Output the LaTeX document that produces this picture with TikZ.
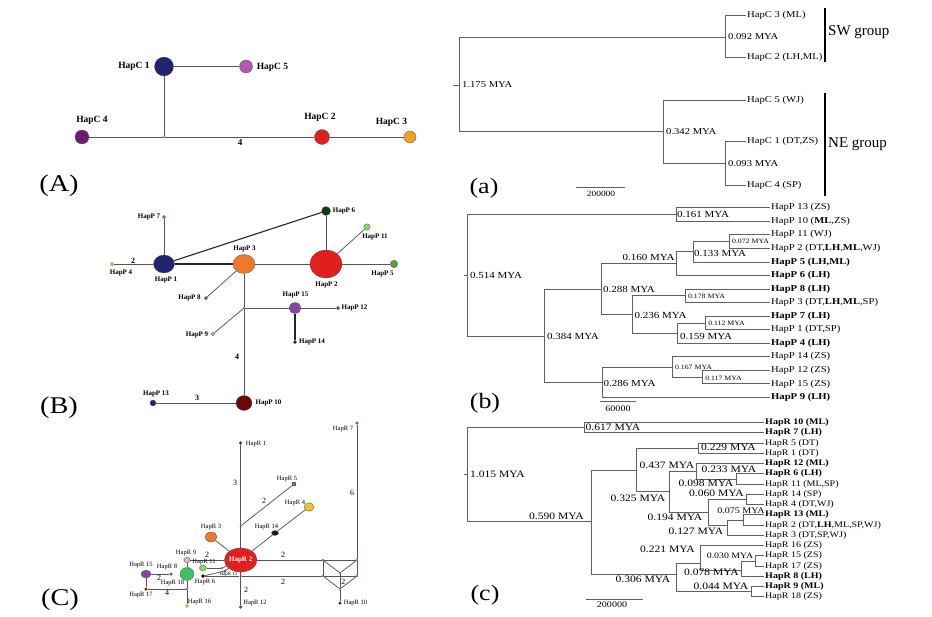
\documentclass[tikz,border=0pt]{standalone}
\usepackage{fontspec}
\setmainfont{Liberation Serif}
\newfontfamily\tf{Liberation Serif}[FakeStretch=1.18]
\usetikzlibrary{shapes.geometric}
\definecolor{navy}{HTML}{23236E}
\definecolor{orchid}{HTML}{B455B4}
\definecolor{purp}{HTML}{6A1B72}
\definecolor{hred}{HTML}{E0201E}
\definecolor{horange}{HTML}{F5A023}
\definecolor{porange}{HTML}{F07828}
\definecolor{dgreen}{HTML}{123A12}
\definecolor{lgreen}{HTML}{88D868}
\definecolor{mgreen}{HTML}{5AA032}
\definecolor{hblue}{HTML}{4A8AD0}
\definecolor{hyellow}{HTML}{E8C828}
\definecolor{magenta2}{HTML}{E02878}
\definecolor{violet2}{HTML}{8A44A8}
\definecolor{olive2}{HTML}{6A5418}
\definecolor{pink2}{HTML}{F2A8C8}
\definecolor{maroon2}{HTML}{6A0808}
\definecolor{green3}{HTML}{3CC060}
\definecolor{jred}{HTML}{D02030}
\definecolor{linegray}{HTML}{555555}
\tikzset{
  edge/.style={draw=linegray, line width=0.75pt},
  edgeB/.style={draw=black!85, line width=1.1pt},
  tline/.style={draw=black!62, line width=0.8pt},
  hap/.style={circle, draw=black!65, line width=0.3pt, inner sep=0pt},
  jn/.style={circle, fill=jred, inner sep=0pt, minimum size=2.4pt},
  labA/.style={font=\fontsize{9.5}{10}\selectfont\bfseries, inner sep=0pt},
  labB/.style={font=\fontsize{7}{8}\selectfont\bfseries, inner sep=0pt},
  labC/.style={font=\fontsize{6.5}{7}\selectfont, inner sep=0pt},
  numA/.style={font=\fontsize{9}{10}\selectfont\bfseries, inner sep=0pt},
  numC/.style={font=\fontsize{8}{9}\selectfont, inner sep=0pt},
  leafa/.style={anchor=west, inner sep=1pt, font=\tf\fontsize{9}{10}\selectfont},
  leafc/.style={anchor=west, inner sep=1pt, font=\tf\fontsize{8.5}{9}\selectfont},
  mya/.style={inner sep=0pt, font=\tf\fontsize{9.3}{10}\selectfont},
  myac/.style={inner sep=0pt, font=\tf\fontsize{9.8}{10}\selectfont},
  myas/.style={inner sep=0pt, font=\tf\fontsize{6.6}{7}\selectfont},
  panel/.style={inner sep=0pt, font=\tf\fontsize{24}{26}\selectfont},
  panelb/.style={inner sep=0pt, font=\tf\fontsize{22}{24}\selectfont},
  grp/.style={anchor=west, inner sep=0pt, font=\fontsize{15}{16}\selectfont},
}
\begin{document}
\begin{tikzpicture}[x=1pt,y=-1pt]
\fill[white] (0,0) rectangle (932,616);
\useasboundingbox (0,0) rectangle (932,616);

% ================= Panel A =================
\node[hap, minimum size=19pt, fill=navy] (C1) at (164,66.5) {};
\node[hap, minimum size=13pt, fill=orchid] (C5) at (246,66.5) {};
\node[jn, minimum size=2pt] (JA) at (164,137) {};
\node[hap, minimum size=14pt, fill=purp] (C4) at (82,137) {};
\node[hap, minimum size=15pt, fill=hred] (C2) at (322,137) {};
\node[hap, minimum size=12pt, fill=horange] (C3) at (410,137) {};
\draw[edge] (C1) -- (C5);
\draw[edge] (C1) -- (JA);
\draw[edge] (C4) -- (JA);
\draw[edge] (JA) -- (C2);
\draw[edge] (C2) -- (C3);
\node[labA] (lC1) at (134,66.5) {HapC 1};
\node[labA] (lC5) at (272.5,67) {HapC 5};
\node[labA] (lC4) at (92,120) {HapC 4};
\node[labA] (lC2) at (320,117) {HapC 2};
\node[labA] (lC3) at (391.5,122) {HapC 3};
\node[numA] (nA4) at (240,142.5) {4};
\node[panel] (pA) at (59,186) {(A)};

% ================= Panel B =================
\node[hap, ellipse, minimum width=21pt, minimum height=18pt, fill=navy] (P1) at (164,264) {};
\node[hap, ellipse, minimum width=22pt, minimum height=19pt, fill=porange] (P3) at (244,264) {};
\node[hap, ellipse, minimum width=32pt, minimum height=28pt, fill=hred] (P2) at (326,264) {};
\node[hap, minimum size=9pt, fill=dgreen] (P6) at (326,211) {};
\node[hap, minimum size=6.5pt, fill=lgreen] (P11) at (367,227) {};
\node[hap, minimum size=7.5pt, fill=mgreen] (P5) at (394,264) {};
\node[hap, minimum size=3.5pt, fill=hblue] (P7) at (164,217) {};
\node[hap, minimum size=3.5pt, fill=hyellow] (P4) at (112,264) {};
\node[hap, minimum size=3.5pt, fill=magenta2] (P8) at (206,298) {};
\node[jn] (JB) at (244,308) {};
\node[hap, ellipse, minimum width=12pt, minimum height=11pt, fill=violet2] (P15) at (295,308) {};
\node[hap, minimum size=3.5pt, fill=olive2] (P12) at (338,308) {};
\node[hap, minimum size=3.5pt, fill=black!85] (P14) at (295,342) {};
\node[hap, minimum size=3.8pt, fill=pink2] (P9) at (213,334) {};
\node[hap, ellipse, minimum width=16pt, minimum height=15pt, fill=maroon2] (P10) at (244,403) {};
\node[hap, minimum size=6pt, fill=navy] (P13) at (153,403) {};
\draw[edge] (P4) -- (P1);
\draw[edge] (P7) -- (P1);
\draw[edgeB] (P1) -- (P3);
\draw[edgeB] (P1) -- (P6);
\draw[edge] (P3) -- (P2);
\draw[edge] (P2) -- (P6);
\draw[edge] (P2) -- (P11);
\draw[edge] (P2) -- (P5);
\draw[edge] (P3) -- (P8);
\draw[edge] (P3) -- (JB);
\draw[edge] (JB) -- (P15);
\draw[edge] (P15) -- (P12);
\draw[edgeB] (P15) -- (P14);
\draw[edge] (JB) -- (P9);
\draw[edge] (JB) -- (P10);
\draw[edge] (P13) -- (P10);
\node[labB] (lP7) at (149,217) {HapP 7};
\node[labB] (lP6) at (344,211) {HapP 6};
\node[labB] (lP11) at (375,237) {HapP 11};
\node[labB] (lP5) at (382.5,273.5) {HapP 5};
\node[labB] (lP2) at (326.5,285) {HapP 2};
\node[labB] (lP3) at (244.5,249) {HapP 3};
\node[labB] (lP1) at (166,280) {HapP 1};
\node[labB] (lP4) at (121,273) {HapP 4};
\node[labB] (lP8) at (189.5,298) {HapP 8};
\node[labB] (lP15) at (295.5,295) {HapP 15};
\node[labB] (lP12) at (354.5,308) {HapP 12};
\node[labB] (lP14) at (312,342) {HapP 14};
\node[labB] (lP9) at (197,334.5) {HapP 9};
\node[labB] (lP10) at (268.5,403) {HapP 10};
\node[labB] (lP13) at (156,394) {HapP 13};
\node[numA, font=\fontsize{8}{9}\selectfont\bfseries] (nB2) at (133,261) {2};
\node[numA, font=\fontsize{8}{9}\selectfont\bfseries] (nB4) at (237,357) {4};
\node[numA, font=\fontsize{8}{9}\selectfont\bfseries] (nB3) at (197,398) {3};
\node[panel] (pB) at (59,408) {(B)};

% ================= Panel C =================
\node[hap, ellipse, minimum width=32pt, minimum height=24pt, fill=hred, text=white, font=\fontsize{7}{8}\selectfont\bfseries] (R2) at (240.7,560) {HapR 2};
\node[hap, minimum size=3pt, fill=navy] (R1) at (240.7,443) {};
\node[jn] (JR1) at (240.7,526) {};
\node[hap, rectangle, minimum size=3pt, fill=mgreen] (R5) at (294,484) {};
\node[hap, ellipse, minimum width=10pt, minimum height=8.5pt, fill=hyellow] (R4) at (309,507) {};
\node[hap, ellipse, minimum width=7pt, minimum height=5pt, fill=black!90] (R14) at (275,533) {};
\node[hap, ellipse, minimum width=12pt, minimum height=10pt, fill=porange] (R3) at (211,537) {};
\node[jn] (JRr) at (323,560) {};
\node[jn] (JRt) at (357,560) {};
\node[jn] (JRm) at (340,573) {};
\node[jn] (JRl) at (323,576) {};
\node[jn] (JRk) at (357,576) {};
\node[jn] (JRb) at (340,589) {};
\node[hap, minimum size=3pt, fill=hblue] (R7) at (357,423) {};
\node[hap, minimum size=3pt, fill=maroon2] (R10) at (340,603) {};
\node[jn] (JR2) at (240.7,576) {};
\node[hap, minimum size=3pt, fill=olive2] (R12) at (240.7,607) {};
\node[hap, ellipse, minimum width=7pt, minimum height=6pt, fill=lgreen] (R11) at (203,568) {};
\node[jn] (J11) at (222,568) {};
\node[hap, minimum size=2.5pt, fill=navy] (R13) at (225,571) {};
\node[hap, minimum size=3.5pt, fill=black] (R6) at (203,576) {};
\node[hap, ellipse, minimum width=6.5pt, minimum height=5.5pt, fill=pink2] (R9) at (187,560) {};
\node[hap, ellipse, minimum width=14pt, minimum height=13pt, fill=green3] (R18) at (187,574) {};
\node[jn] (J18) at (187,589) {};
\node[hap, minimum size=3pt, fill=hyellow] (R16) at (187,606) {};
\node[hap, minimum size=3pt, fill=maroon2] (R17) at (146,589) {};
\node[hap, ellipse, minimum width=10pt, minimum height=8pt, fill=violet2] (R15) at (146,574) {};
\node[hap, minimum size=3pt, fill=magenta2] (R8) at (171,574) {};
\draw[edge] (R1) -- (JR1);
\draw[edge] (JR1) -- (R5);
\draw[edge] (JR1) -- (R2);
\draw[edge] (R2) -- (R14);
\draw[edge] (R14) -- (R4);
\draw[edge] (R3) -- (R2);
\draw[edge] (R2) -- (JRr);
\draw[edge] (JRr) -- (JRt);
\draw[edge] (JRr) -- (JRm);
\draw[edge] (JRt) -- (JRm);
\draw[edge] (JRm) -- (JRb);
\draw[edge] (JRb) -- (R10);
\draw[edge] (JRl) -- (JRb);
\draw[edge] (JRk) -- (JRb);
\draw[edge] (JRr) -- (JRl);
\draw[edge] (JRt) -- (JRk);
\draw[edge] (JRt) -- (R7);
\draw[edge] (JR2) -- (JRl);
\draw[edge] (JRl) -- (JRk);
\draw[edge] (R2) -- (JR2);
\draw[edge] (JR2) -- (R12);
\draw[edge] (R6) -- (JR2);
\draw[edge] (R6) -- (R13);
\draw[edge] (R13) -- (R2);
\draw[edge] (R11) -- (J11);
\draw[edge] (J11) -- (R2);
\draw[edge] (R9) -- (R2);
\draw[edge] (R9) -- (R18);
\draw[edge] (R18) -- (J18);
\draw[edge] (J18) -- (R16);
\draw[edge] (J18) -- (R17);
\draw[edge] (R17) -- (R15);
\draw[edge] (R15) -- (R8);
\node[labC] (lR1) at (256,444) {HapR 1};
\node[labC] (lR5) at (287,479) {HapR 5};
\node[labC] (lR4) at (295,503) {HapR 4};
\node[labC] (lR14) at (266.5,527.5) {HapR 14};
\node[labC] (lR3) at (211,527) {HapR 3};
\node[labC] (lR7) at (343,429.5) {HapR 7};
\node[labC] (lR10) at (355.5,603) {HapR 10};
\node[labC] (lR12) at (255,603) {HapR 12};
\node[labC] (lR9) at (186,553) {HapR 9};
\node[labC] (lR11) at (204,562) {HapR 11};
\node[labC, font=\fontsize{4.8}{5}\selectfont] (lR13) at (228.5,574.5) {HapR 13};
\node[labC] (lR6) at (205,582) {HapR 6};
\node[labC] (lR15) at (141,565) {HapR 15};
\node[labC] (lR8) at (167,567) {HapR 8};
\node[labC] (lR18) at (172.5,583) {HapR 18};
\node[labC] (lR17) at (141,595) {HapR 17};
\node[labC] (lR16) at (199.5,602) {HapR 16};
\node[numC] (nC3) at (235,483) {3};
\node[numC] (nC2a) at (264,501) {2};
\node[numC] (nC2b) at (283,555) {2};
\node[numC] (nC2c) at (283,582) {2};
\node[numC] (nC6) at (352,493) {6};
\node[numC] (nC2d) at (343.3,581.7) {2};
\node[numC] (nC2e) at (246,590) {2};
\node[numC] (nC2f) at (207,555) {2};
\node[numC] (nC2g) at (159,578) {2};
\node[numC] (nC4) at (167,593) {4};
\node[panel] (pC) at (60,600) {(C)};

% ================= Tree (a) =================
\coordinate (ta0) at (453,85);
\coordinate (ra) at (459,85);
\coordinate (aSW) at (725,37);
\coordinate (aNE) at (663.3,131.7);
\coordinate (aC14) at (725,163.3);
\node[leafa] (tC3) at (746,15) {HapC 3 (ML)};
\node[leafa] (tC2) at (746,57.3) {HapC 2 (LH,ML)};
\node[leafa] (tC5) at (746,100) {HapC 5 (WJ)};
\node[leafa] (tC1) at (746,141.7) {HapC 1 (DT,ZS)};
\node[leafa] (tC4) at (746,185) {HapC 4 (SP)};
\draw[tline] (ta0) -- (ra);
\draw[tline] (ra) |- (aSW);
\draw[tline] (ra) |- (aNE);
\draw[tline] (aSW) |- (tC3.west);
\draw[tline] (aSW) |- (tC2.west);
\draw[tline] (aNE) |- (tC5.west);
\draw[tline] (aNE) |- (aC14);
\draw[tline] (aC14) |- (tC1.west);
\draw[tline] (aC14) |- (tC4.west);
\node[mya, anchor=west, font=\tf\fontsize{9}{10}\selectfont] (ma1) at (462,85) {1.175 MYA};
\node[mya, anchor=west, font=\tf\fontsize{9}{10}\selectfont] (ma2) at (728,37) {0.092 MYA};
\node[mya, anchor=west, font=\tf\fontsize{9}{10}\selectfont] (ma3) at (666,132) {0.342 MYA};
\node[mya, anchor=west, font=\tf\fontsize{9}{10}\selectfont] (ma4) at (728,164) {0.093 MYA};
\coordinate (sbA1) at (825,8); \coordinate (sbA2) at (825,62);
\coordinate (neA1) at (825,93); \coordinate (neA2) at (825,196);
\draw[line width=2pt] (sbA1) -- (sbA2);
\draw[line width=2pt] (neA1) -- (neA2);
\node[grp] (gSW) at (828,32) {SW group};
\node[grp] (gNE) at (828,144) {NE group};
\coordinate (scA1) at (576,187.7); \coordinate (scA2) at (625,187.7);
\draw[tline] (scA1) -- (scA2);
\node[inner sep=0pt, font=\tf\fontsize{8}{9}\selectfont] (scAt) at (601,193.5) {200000};
\node[panelb] (pa) at (484,188) {(a)};

% ================= Tree (b) =================
\coordinate (tb0) at (464,275);
\coordinate (rb) at (467.3,275);
\coordinate (b161) at (676,214.3);
\coordinate (b384) at (544.3,336);
\coordinate (b288) at (601.7,289.3);
\coordinate (b286) at (602.3,382.7);
\coordinate (b160) at (676.7,263.3);
\coordinate (b236) at (632,314.7);
\coordinate (b133) at (693.3,251.7);
\coordinate (b072) at (729.3,241.3);
\coordinate (b178) at (685,295.7);
\coordinate (b159) at (677.3,333.3);
\coordinate (b112) at (705.7,323);
\coordinate (b167) at (672.3,367.7);
\coordinate (b117) at (702.3,377.7);
\node[leafa] (tP13) at (770,207.7) {HapP 13 (ZS)};
\node[leafa] (tP10) at (770,221.25) {HapP 10 (\textbf{ML},ZS)};
\node[leafa] (tP11) at (770,234.8) {HapP 11 (WJ)};
\node[leafa] (tP2) at (770,248.35) {HapP 2 (DT,\textbf{LH},\textbf{ML},WJ)};
\node[leafa] (tP5) at (770,261.9) {\textbf{HapP 5 (LH,ML)}};
\node[leafa] (tP6) at (770,275.45) {\textbf{HapP 6 (LH)}};
\node[leafa] (tP8) at (770,289) {\textbf{HapP 8 (LH)}};
\node[leafa] (tP3) at (770,302.55) {HapP 3 (DT,\textbf{LH},\textbf{ML},SP)};
\node[leafa] (tP7) at (770,316.1) {\textbf{HapP 7 (LH)}};
\node[leafa] (tP1) at (770,329.65) {HapP 1 (DT,SP)};
\node[leafa] (tP4) at (770,343.2) {\textbf{HapP 4 (LH)}};
\node[leafa] (tP14) at (770,356.75) {HapP 14 (ZS)};
\node[leafa] (tP12) at (770,370.3) {HapP 12 (ZS)};
\node[leafa] (tP15) at (770,383.85) {HapP 15 (ZS)};
\node[leafa] (tP9) at (770,397.4) {\textbf{HapP 9 (LH)}};
\draw[tline] (tb0) -- (rb);
\draw[tline] (rb) |- (b161);
\draw[tline] (rb) |- (b384);
\draw[tline] (b161) |- (tP13.west);
\draw[tline] (b161) |- (tP10.west);
\draw[tline] (b384) |- (b288);
\draw[tline] (b384) |- (b286);
\draw[tline] (b288) |- (b160);
\draw[tline] (b288) |- (b236);
\draw[tline] (b160) |- (b133);
\draw[tline] (b160) |- (tP6.west);
\draw[tline] (b133) |- (b072);
\draw[tline] (b133) |- (tP5.west);
\draw[tline] (b072) |- (tP11.west);
\draw[tline] (b072) |- (tP2.west);
\draw[tline] (b236) |- (b178);
\draw[tline] (b236) |- (b159);
\draw[tline] (b178) |- (tP8.west);
\draw[tline] (b178) |- (tP3.west);
\draw[tline] (b159) |- (b112);
\draw[tline] (b159) |- (tP4.west);
\draw[tline] (b112) |- (tP7.west);
\draw[tline] (b112) |- (tP1.west);
\draw[tline] (b286) |- (b167);
\draw[tline] (b286) |- (tP9.west);
\draw[tline] (b167) |- (tP14.west);
\draw[tline] (b167) |- (b117);
\draw[tline] (b117) |- (tP12.west);
\draw[tline] (b117) |- (tP15.west);
\node[mya, anchor=west] (mb1) at (470,275) {0.514 MYA};
\node[mya, anchor=west] (mb2) at (677,214.5) {0.161 MYA};
\node[mya] (mb3) at (648.5,257.5) {0.160 MYA};
\node[mya] (mb4) at (720,253.5) {0.133 MYA};
\node[myas] (mb5) at (750.5,241) {0.072 MYA};
\node[mya] (mb6) at (629,289.5) {0.288 MYA};
\node[myas] (mb7) at (706.5,296) {0.178 MYA};
\node[mya] (mb8) at (660.5,315) {0.236 MYA};
\node[myas] (mb9) at (726.5,323) {0.112 MYA};
\node[mya] (mb10) at (706,336.5) {0.159 MYA};
\node[mya] (mb11) at (573,336.5) {0.384 MYA};
\node[mya] (mb12) at (629.5,383) {0.286 MYA};
\node[myas] (mb13) at (693.5,367.5) {0.167 MYA};
\node[myas] (mb14) at (723.5,378) {0.117 MYA};
\coordinate (scB1) at (600,401.7); \coordinate (scB2) at (636,401.7);
\draw[tline] (scB1) -- (scB2);
\node[inner sep=0pt, font=\tf\fontsize{8.5}{9}\selectfont] (scBt) at (618,408.5) {60000};
\node[panelb] (pb) at (485,403) {(b)};

% ================= Tree (c) =================
\coordinate (tc0) at (464,474.3);
\coordinate (rc) at (467.3,474.3);
\coordinate (c617) at (584,427.6);
\coordinate (c590) at (591.7,521);
\coordinate (cA) at (636.7,470);
\coordinate (c229) at (698.3,448);
\coordinate (cB) at (669.3,491.7);
\coordinate (cC) at (696.7,471.7);
\coordinate (cE) at (736.7,478.9);
\coordinate (cD) at (708.3,512.3);
\coordinate (cF) at (746.7,499.4);
\coordinate (cG) at (727.7,525);
\coordinate (cH) at (743.3,519.9);
\coordinate (c306) at (676,574.3);
\coordinate (cI) at (700,563.3);
\coordinate (cK) at (741.7,570);
\coordinate (cL) at (755,560.9);
\coordinate (cJ) at (751.7,591.6);
\node[leafc] (tR10) at (764,422.5) {\textbf{HapR 10 (ML)}};
\node[leafc] (tR7) at (764,432.75) {\textbf{HapR 7 (LH)}};
\node[leafc] (tR5) at (764,443) {HapR 5 (DT)};
\node[leafc] (tR1) at (764,453.25) {HapR 1 (DT)};
\node[leafc] (tR12) at (764,463.5) {\textbf{HapR 12 (ML)}};
\node[leafc] (tR6) at (764,473.75) {\textbf{HapR 6 (LH)}};
\node[leafc] (tR11) at (764,484) {HapR 11 (ML,SP)};
\node[leafc] (tR14) at (764,494.25) {HapR 14 (SP)};
\node[leafc] (tR4) at (764,504.5) {HapR 4 (DT,WJ)};
\node[leafc] (tR13) at (764,514.75) {\textbf{HapR 13 (ML)}};
\node[leafc] (tR2) at (764,525) {HapR 2 (DT,\textbf{LH},ML,SP,WJ)};
\node[leafc] (tR3) at (764,535.25) {HapR 3 (DT,SP,WJ)};
\node[leafc] (tR16) at (764,545.5) {HapR 16 (ZS)};
\node[leafc] (tR15) at (764,555.75) {HapR 15 (ZS)};
\node[leafc] (tR17) at (764,566) {HapR 17 (ZS)};
\node[leafc] (tR8) at (764,576.25) {\textbf{HapR 8 (LH)}};
\node[leafc] (tR9) at (764,586.5) {\textbf{HapR 9 (ML)}};
\node[leafc] (tR18) at (764,596.75) {HapR 18 (ZS)};
\draw[tline] (tc0) -- (rc);
\draw[tline] (rc) |- (c617);
\draw[tline] (rc) |- (c590);
\draw[tline] (c617) |- (tR10.west);
\draw[tline] (c617) |- (tR7.west);
\draw[tline] (c590) |- (cA);
\draw[tline] (c590) |- (c306);
\draw[tline] (cA) |- (c229);
\draw[tline] (cA) |- (cB);
\draw[tline] (c229) |- (tR5.west);
\draw[tline] (c229) |- (tR1.west);
\draw[tline] (cB) |- (cC);
\draw[tline] (cB) |- (cD);
\draw[tline] (cC) |- (tR12.west);
\draw[tline] (cC) |- (cE);
\draw[tline] (cE) |- (tR6.west);
\draw[tline] (cE) |- (tR11.west);
\draw[tline] (cD) |- (cF);
\draw[tline] (cD) |- (cG);
\draw[tline] (cF) |- (tR14.west);
\draw[tline] (cF) |- (tR4.west);
\draw[tline] (cG) |- (cH);
\draw[tline] (cG) |- (tR3.west);
\draw[tline] (cH) |- (tR13.west);
\draw[tline] (cH) |- (tR2.west);
\draw[tline] (c306) |- (cI);
\draw[tline] (c306) |- (cJ);
\draw[tline] (cI) |- (tR16.west);
\draw[tline] (cI) |- (cK);
\draw[tline] (cK) |- (cL);
\draw[tline] (cK) |- (tR8.west);
\draw[tline] (cL) |- (tR15.west);
\draw[tline] (cL) |- (tR17.west);
\draw[tline] (cJ) |- (tR9.west);
\draw[tline] (cJ) |- (tR18.west);
\node[myac, anchor=west] (mc1) at (470,474.3) {1.015 MYA};
\node[myac, anchor=west] (mc2) at (585.5,427.3) {0.617 MYA};
\node[myac] (mc3) at (556.5,516.5) {0.590 MYA};
\node[myac] (mc4) at (667,465.5) {0.437 MYA};
\node[myac] (mc5) at (728.5,447.8) {0.229 MYA};
\node[myac] (mc6) at (729,469.5) {0.233 MYA};
\node[myac] (mc7) at (706,483) {0.098 MYA};
\node[myac] (mc8) at (638,498) {0.325 MYA};
\node[myac] (mc9) at (716.5,493.5) {0.060 MYA};
\node[myac] (mc10) at (675,517) {0.194 MYA};
\node[myac, font=\tf\fontsize{8.5}{9}\selectfont] (mc11) at (741,510.5) {0.075 MYA};
\node[myac] (mc12) at (696,531) {0.127 MYA};
\node[myac] (mc13) at (667.5,549) {0.221 MYA};
\node[myac, font=\tf\fontsize{8.3}{9}\selectfont] (mc14) at (730,556) {0.030 MYA};
\node[myac] (mc15) at (711.5,572) {0.078 MYA};
\node[myac] (mc16) at (643,579) {0.306 MYA};
\node[myac] (mc17) at (721,586) {0.044 MYA};
\coordinate (scC1) at (585.7,599.3); \coordinate (scC2) at (643.3,599.3);
\draw[tline] (scC1) -- (scC2);
\node[inner sep=0pt, font=\tf\fontsize{8.5}{9}\selectfont] (scCt) at (612,605) {200000};
\node[panelb] (pc) at (485,595) {(c)};
\end{tikzpicture}
\end{document}
